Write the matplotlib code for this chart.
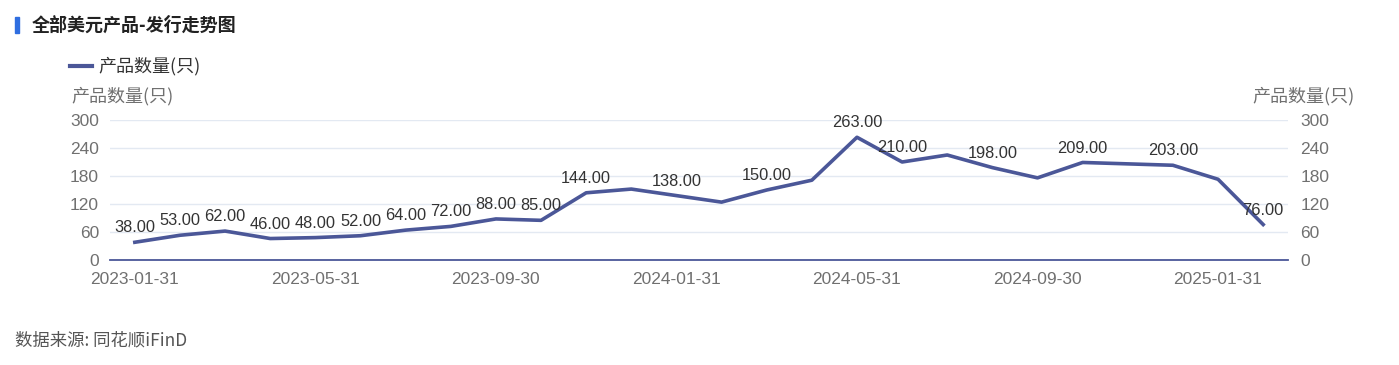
import matplotlib
matplotlib.use("Agg")
import matplotlib.pyplot as plt
from matplotlib.patches import Rectangle
from matplotlib.lines import Line2D

plt.rcParams['font.family'] = ['Noto Sans CJK SC', 'DejaVu Sans']
NUM_FONT = ['Liberation Sans', 'Noto Sans CJK SC']

months = ['2023-01-31', '2023-02-28', '2023-03-31', '2023-04-30', '2023-05-31', '2023-06-30',
          '2023-07-31', '2023-08-31', '2023-09-30', '2023-10-31', '2023-11-30', '2023-12-31',
          '2024-01-31', '2024-02-29', '2024-03-31', '2024-04-30', '2024-05-31', '2024-06-30',
          '2024-07-31', '2024-08-31', '2024-09-30', '2024-10-31', '2024-11-30', '2024-12-31',
          '2025-01-31', '2025-02-28']
counts = [38, 53, 62, 46, 48, 52, 64, 72, 88, 85, 144, 152, 138, 124, 150, 171, 263, 210,
          225, 198, 176, 209, 206, 203, 173, 76]
labeled = [True] * 11 + [False, True, False, True, False, True, True, False, True, False,
                         True, False, True, False, True]
xtick_labels = ['2023-01-31', '2023-05-31', '2023-09-30', '2024-01-31', '2024-05-31',
                '2024-09-30', '2025-01-31']
yticks = [0, 60, 120, 180, 240, 300]

W, H = 1399, 365
fig = plt.figure(figsize=(W / 100, H / 100), dpi=100)
ax = fig.add_axes([110 / W, 1 - 260 / H, (1288 - 110) / W, 140 / H])

line_color = '#4b5798'
tick_color = '#707070'
x = list(range(len(months)))
ax.plot(x, counts, color=line_color, lw=2.6, solid_joinstyle='round', zorder=3)
for xi, v, lab in zip(x, counts, labeled):
    if lab:
        ax.annotate(f'{v:.2f}', (xi, v), xytext=(0, 5), textcoords='offset points',
                    ha='center', va='bottom', fontsize=11.8, color='#333333', zorder=4,
                    family=NUM_FONT)

ax.set_xlim(-0.55, len(months) - 1 + 0.55)
ax.set_ylim(0, 300)
ax.set_yticks(yticks)
ax.set_yticklabels([str(t) for t in yticks], family=NUM_FONT)
ax.set_xticks([months.index(m) for m in xtick_labels])
ax.set_xticklabels(xtick_labels, family=NUM_FONT)
ax.grid(axis='y', color='#e3e9f2', lw=1)
ax.set_axisbelow(True)
for s in ['top', 'right', 'left']:
    ax.spines[s].set_visible(False)
ax.spines['bottom'].set_color(line_color)
ax.spines['bottom'].set_linewidth(1.3)
ax.tick_params(axis='both', length=0, labelsize=12.5, colors=tick_color)
ax.tick_params(axis='y', pad=8)
ax.tick_params(axis='x', pad=9)

ax2 = ax.twinx()
ax2.set_ylim(0, 300)
ax2.set_yticks(yticks)
ax2.set_yticklabels([str(t) for t in yticks], family=NUM_FONT)
for s in ['top', 'right', 'left', 'bottom']:
    ax2.spines[s].set_visible(False)
ax2.tick_params(axis='y', length=0, labelsize=12.5, colors=tick_color, pad=9)

# axis titles
fig.text(71 / W, 1 - 96 / H, '产品数量(只)', fontsize=13, color=tick_color, ha='left', va='center')
fig.text(1355 / W, 1 - 96 / H, '产品数量(只)', fontsize=13, color=tick_color, ha='right', va='center')

# legend
fig.add_artist(Line2D([70 / W, 92 / W], [1 - 66 / H, 1 - 66 / H], color=line_color, lw=3))
fig.text(98 / W, 1 - 66 / H, '产品数量(只)', fontsize=13, color='#333333', ha='left', va='center')

# title
fig.add_artist(Rectangle((15 / W, 1 - 33 / H), 4 / W, 16 / H, color='#2f6ee0',
                         transform=fig.transFigure))
fig.text(32 / W, 1 - 25 / H, '全部美元产品-发行走势图', fontsize=13, fontweight='bold',
         color='#222222', ha='left', va='center')

# source
fig.text(15 / W, 1 - 340 / H, '数据来源: 同花顺iFinD', fontsize=12.5, color='#555555',
         ha='left', va='center')

fig.savefig('out.png', dpi=100, facecolor='white')
